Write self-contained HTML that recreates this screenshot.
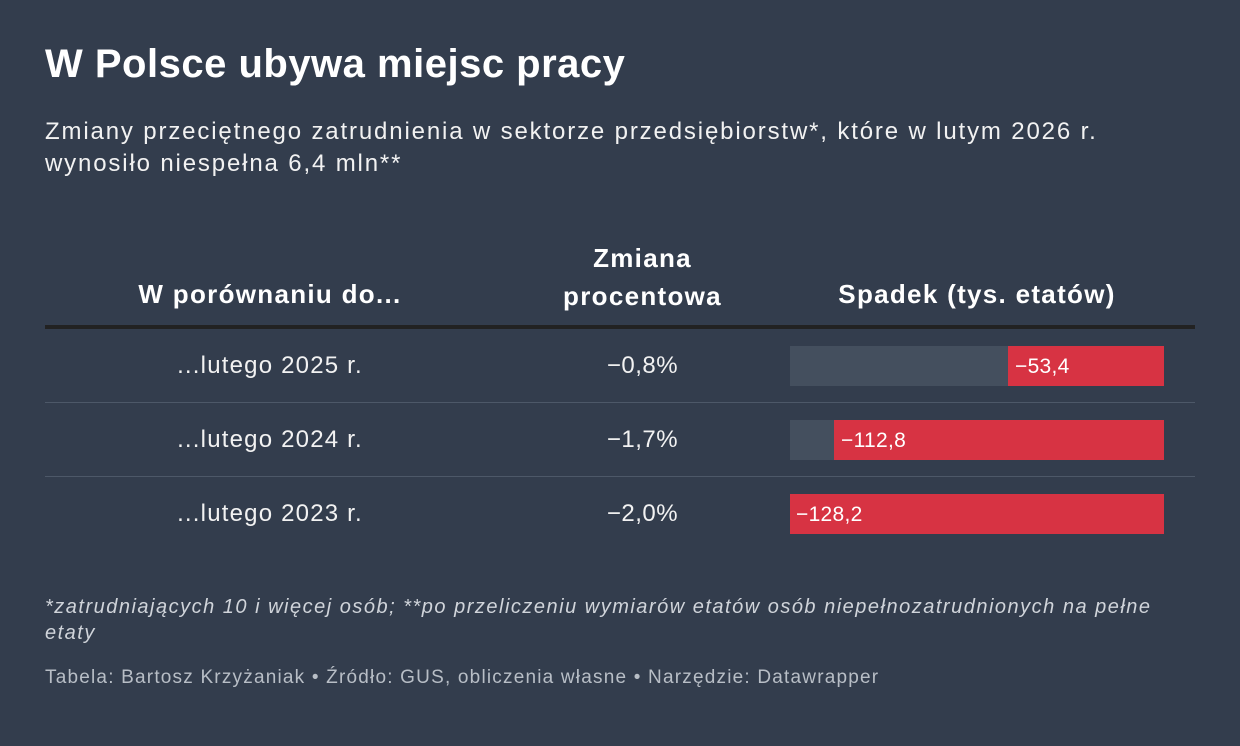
<!DOCTYPE html>
<html><head><meta charset="utf-8"><style>
body{margin:0;width:1240px;height:746px;background:#333d4d;font-family:"Liberation Sans",sans-serif;color:#fff;position:relative;overflow:hidden}
.a{position:absolute;white-space:nowrap}
.c{text-align:center}
.bar{position:absolute;height:40px}
.h{font-size:26px;font-weight:bold;letter-spacing:1.3px}
.r{font-size:24px;color:#f2f2f2;letter-spacing:1.2px}
.p{font-size:24px;color:#f2f2f2;letter-spacing:0.5px}
</style></head><body>
<div class="a" style="left:45px;top:42px;font-size:40px;font-weight:bold;letter-spacing:0.5px">W Polsce ubywa miejsc pracy</div>
<div class="a" style="left:45px;top:116px;font-size:24px;line-height:32px;color:#f2f2f2;letter-spacing:1.85px">Zmiany przeciętnego zatrudnienia w sektorze przedsiębiorstw*, które w lutym 2026 r.<br>wynosiło niespełna 6,4 mln**</div>
<div class="a c h" style="left:70px;width:400px;top:279px">W porównaniu do...</div>
<div class="a c h" style="left:520px;width:245px;top:239px;line-height:38px">Zmiana<br>procentowa</div>
<div class="a c h" style="left:777px;width:400px;top:279px">Spadek (tys. etatów)</div>
<div class="a" style="left:45px;top:325px;width:1150px;height:4px;background:#222"></div>
<div class="a" style="left:45px;top:402px;width:1150px;height:1px;background:#4d5868"></div>
<div class="a" style="left:45px;top:476px;width:1150px;height:1px;background:#4d5868"></div>
<div class="a c r" style="left:70px;width:400px;top:352px">...lutego 2025 r.</div>
<div class="a c r" style="left:70px;width:400px;top:426px">...lutego 2024 r.</div>
<div class="a c r" style="left:70px;width:400px;top:500px">...lutego 2023 r.</div>
<div class="a c p" style="left:540px;width:205px;top:352px">−0,8%</div>
<div class="a c p" style="left:540px;width:205px;top:426px">−1,7%</div>
<div class="a c p" style="left:540px;width:205px;top:500px">−2,0%</div>
<div class="bar" style="left:790px;top:346px;width:374px;background:#444f5e"></div>
<div class="bar" style="left:1008px;top:346px;width:156px;background:#d73343"></div>
<div class="a" style="left:1015px;top:355px;font-size:21px;letter-spacing:0.3px">−53,4</div>
<div class="bar" style="left:790px;top:420px;width:374px;background:#444f5e"></div>
<div class="bar" style="left:834px;top:420px;width:330px;background:#d73343"></div>
<div class="a" style="left:841px;top:429px;font-size:21px;letter-spacing:0.3px">−112,8</div>
<div class="bar" style="left:790px;top:494px;width:374px;background:#d73343"></div>
<div class="a" style="left:796px;top:503px;font-size:21px;letter-spacing:0.3px">−128,2</div>
<div class="a" style="left:45px;top:594px;font-size:20px;line-height:26px;font-style:italic;color:#d0d4da;letter-spacing:1.5px">*zatrudniających 10 i więcej osób; **po przeliczeniu wymiarów etatów osób niepełnozatrudnionych na pełne<br>etaty</div>
<div class="a" style="left:45px;top:667px;font-size:19px;color:#b8bec6;letter-spacing:1.2px">Tabela: Bartosz Krzyżaniak • Źródło: GUS, obliczenia własne • Narzędzie: Datawrapper</div>
</body></html>
